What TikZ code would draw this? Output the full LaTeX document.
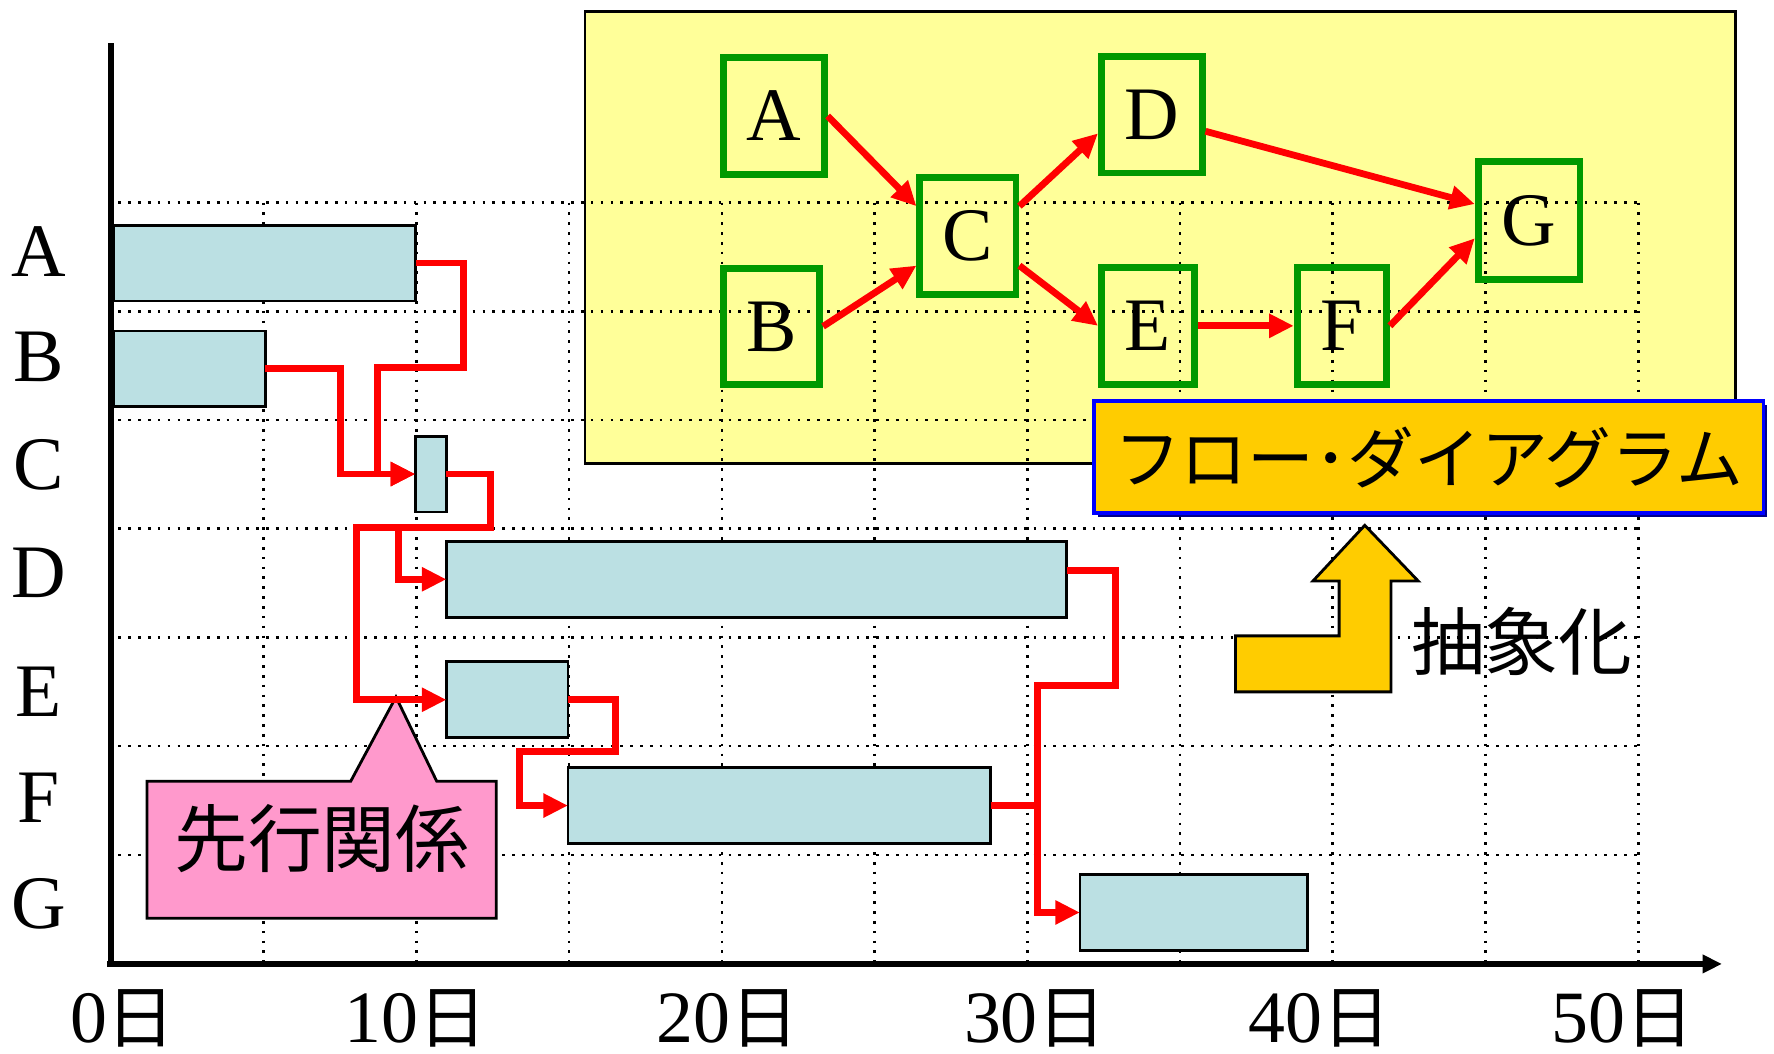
\documentclass[tikz,border=0pt]{standalone}
\usepackage{fontspec}
\setmainfont{Liberation Serif}
\newfontfamily\jpfont{Noto Sans CJK JP}
\usepackage{tikz}
\usetikzlibrary{arrows.meta, shadows}
\usepackage{xcolor}
\definecolor{ganttblue}{RGB}{187,224,227}
\definecolor{panelyellow}{RGB}{255,255,153}
\definecolor{flowgreen}{RGB}{0,153,0}
\definecolor{linkred}{RGB}{255,0,0}
\definecolor{calloutpink}{RGB}{255,153,204}
\definecolor{labelorange}{RGB}{255,204,0}
\definecolor{labelblue}{RGB}{0,0,255}
\definecolor{shadowblue}{RGB}{0,0,140}
\newcommand{\unitpx}{0.3219pt}
\newcommand{\nichi}{{\jpfont\fontsize{19.5}{24}\selectfont 日}}

\begin{document}
\begin{tikzpicture}[x=\unitpx, y=-\unitpx,
ganttbar/.style={draw, line width=0.8pt, fill=ganttblue, inner sep=0pt, outer sep=0pt,
  minimum height=67*\unitpx, anchor=west},
link/.style={draw=linkred, line width=1.93pt, -{Triangle[length=7pt,width=6.5pt]}},
flowbox/.style={draw=flowgreen, line width=1.93pt, inner sep=0pt,
  minimum height=103*\unitpx, font=\fontsize{21.5}{24}\selectfont},
flowlabel/.style={draw=labelblue, line width=1.1pt, fill=labelorange, inner sep=0pt,
  minimum width=592*\unitpx, minimum height=99*\unitpx,
  font=\jpfont\fontsize{19}{22}\selectfont,
  drop shadow={shadow xshift=1.1pt, shadow yshift=-1.1pt, fill=shadowblue, opacity=1}},
gridline/.style={dash pattern=on 0.75pt off 2.05pt, line width=0.75pt},
axisline/.style={line width=1.5pt},
rowlabel/.style={anchor=base, inner sep=0pt, font=\fontsize{21.5}{24}\selectfont},
daylabel/.style={anchor=base, inner sep=0pt, font=\fontsize{21}{24}\selectfont},
jptext/.style={inner sep=0pt, font=\jpfont\fontsize{21}{24}\selectfont}]

\useasboundingbox (0,0) rectangle (1568,931);

% flow panel
\draw[fill=panelyellow, line width=0.7pt] (517,10) rectangle (1534,409.5);

% grid
\foreach \gy in {0,...,6}
  \draw[gridline] (96,{179+96.1*\gy}) -- (1448,{179+96.1*\gy});
\foreach \gx in {1,...,10}
  \draw[gridline] ({98+135*\gx},179) -- ({98+135*\gx},852);

% axes
\coordinate (origin) at (98,852);
\draw[axisline] (origin) -- (98,38);
\draw[axisline, -{Triangle[length=5.5pt,width=5pt]}] (95,852) -- (1522,852);

% activities
\node[rowlabel] (labelA) at (34,244.6) {A};
\node[rowlabel] (labelB) at (34,337) {B};
\node[rowlabel] (labelC) at (34,432.6) {C};
\node[rowlabel] (labelD) at (34,528) {D};
\node[rowlabel] (labelE) at (34,633.6) {E};
\node[rowlabel] (labelF) at (34,727) {F};
\node[rowlabel] (labelG) at (34,821) {G};

% days
\node[daylabel] (day0) at (108.5,921.5) {0\nichi};
\node[daylabel] (day10) at (367.5,921.5) {10\nichi};
\node[daylabel] (day20) at (643.5,921.5) {20\nichi};
\node[daylabel] (day30) at (915,921.5) {30\nichi};
\node[daylabel] (day40) at (1166.5,921.5) {40\nichi};
\node[daylabel] (day50) at (1434.5,921.5) {50\nichi};

% gantt bars
\node[ganttbar, minimum width=267.5*\unitpx] (ganttA) at (100,232.5) {};
\node[ganttbar, minimum width=134.5*\unitpx] (ganttB) at (100,326) {};
\node[ganttbar, minimum width=27.6*\unitpx] (ganttC) at (367,419) {};
\node[ganttbar, minimum width=548.2*\unitpx] (ganttD) at (394.6,512) {};
\node[ganttbar, minimum width=107.4*\unitpx] (ganttE) at (394.6,618.5) {};
\node[ganttbar, minimum width=373.8*\unitpx] (ganttF) at (502,712) {};
\node[ganttbar, minimum width=201.2*\unitpx] (ganttG) at (954.5,806.5) {};

% precedence callout
\draw[fill=calloutpink, line width=0.8pt] (130,690.5) -- (310,690.5) -- (350,616)
  -- (386,690.5) -- (438.6,690.5) -- (438.6,811.6) -- (130,811.6) -- cycle;
\node[jptext] (callout) at (284.5,741) {先行関係};

% precedence links
\coordinate (jG) at (917,712);
\draw[link] (ganttA.east) -| (410,325) -| (334,419) -- (ganttC.west);
\draw[link] (ganttB.east) -| (301,419) -- (ganttC.west);
\draw[link] (ganttC.east) -| (433.5,466) -| (352,512) -- (ganttD.west);
\draw[link] (ganttC.east) -| (433.5,466) -| (315,618.5) -- (ganttE.west);
\draw[link] (ganttE.east) -| (544,664) -| (459.5,712) -- (ganttF.west);
\draw[link, -] ([yshift=2.6pt]ganttD.east) -| (986,606) -| (jG);
\draw[link] (ganttF.east) -- (jG) |- (ganttG.west);

% flow diagram
\node[flowbox, minimum width=89*\unitpx] (A) at (684,102.5) {A};
\node[flowbox, minimum width=85*\unitpx] (B) at (682,288.5) {B};
\node[flowbox, minimum width=85*\unitpx] (C) at (855.5,208.5) {C};
\node[flowbox, minimum width=89*\unitpx] (D) at (1018,101.5) {D};
\node[flowbox, minimum width=82*\unitpx] (E) at (1014.5,288) {E};
\node[flowbox, minimum width=79*\unitpx] (F) at (1186,288) {F};
\node[flowbox, minimum width=90*\unitpx, minimum height=104*\unitpx] (G) at (1351.5,195) {G};

\draw[link] (A.east) -- (C.150);
\draw[link] (B.east) -- (C.210);
\draw[link] (C.30) -- (D.199);
\draw[link] (C.330) -- (E.west);
\draw[link] (E.east) -- (F.west);
\draw[link] (F.east) -- (G.198);
\draw[link] (D.343) -- (G.163);

\node[flowlabel] (flowname) at (1262.7,404.2) {フロー･ダイアグラム};

% abstraction
\draw[fill=labelorange, line width=0.8pt] (1092,611.5) -- (1092,562) -- (1183.6,562)
  -- (1183.6,513.5) -- (1160.5,513.5) -- (1206.3,464.3) -- (1253.5,513.5)
  -- (1229.4,513.5) -- (1229.4,611.5) -- cycle;
\node[jptext] (abstraction) at (1345,567) {抽象化};

\end{tikzpicture}
\end{document}
